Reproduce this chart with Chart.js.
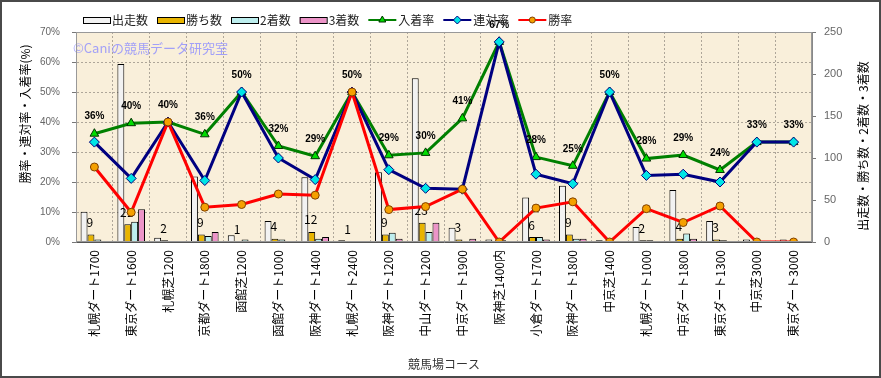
<!DOCTYPE html>
<html><head><meta charset="utf-8">
<script src="https://cdn.jsdelivr.net/npm/chart.js@4"></script>
<style>html,body{margin:0;padding:0;background:#fff;}canvas{display:block;}</style>
</head><body>
<canvas id="c" width="881" height="378"></canvas>
<script>
const categories = ['札幌ダート1700','東京ダート1600','札幌芝1200','京都ダート1800','函館芝1200','函館ダート1000','阪神ダート1400','札幌ダート2400','阪神ダート1200','中山ダート1200','中京ダート1900','阪神芝1400内','小倉ダート1700','阪神ダート1800','中京芝1400','札幌ダート1000','中京ダート1800','東京ダート1300','中京芝3000','東京ダート3000'];
const runs    = [36,212,5,78,8,25,77,2,83,195,17,3,53,67,2,18,62,25,3,3];
const wins    = [9,21,2,9,1,4,12,1,9,23,3,0,6,9,0,2,4,3,0,0];
const seconds = [3,24,0,7,3,3,4,0,11,12,0,2,6,4,1,2,10,2,1,1];
const thirds  = [1,39,0,12,0,1,6,0,4,23,4,0,3,4,0,1,4,1,0,0];
const placeRate  = [36.1,39.6,40.0,35.9,50.0,32.0,28.6,50.0,28.9,29.7,41.2,66.7,28.3,25.4,50.0,27.8,29.0,24.0,33.3,33.3];
const rentaiRate = [33.3,21.2,40.0,20.5,50.0,28.0,20.8,50.0,24.1,17.9,17.6,66.7,22.6,19.4,50.0,22.2,22.6,20.0,33.3,33.3];
const winRate    = [25.0,9.9,40.0,11.6,12.5,16.0,15.6,50.0,10.8,11.8,17.6,0,11.3,13.4,0,11.1,6.5,12.0,0,0];
const leftTicks = [0,10,20,30,40,50,60,70];
const rightTicks = [0,50,100,150,200,250];
const leftTitle = '勝率・連対率・入着率(%)';
const rightTitle = '出走数・勝ち数・2着数・3着数';
const xTitle = '競馬場コース';
const watermark = '©Caniの競馬データ研究室';

const JP = '"Noto Sans CJK JP", "Noto Sans", sans-serif';
const LAT = '"Liberation Sans", Arial, sans-serif';

const deco = {
  id: 'deco',
  beforeDraw(chart) {
    const {ctx, chartArea: a} = chart;
    ctx.save();
    ctx.fillStyle = '#fff';
    ctx.fillRect(0, 0, chart.width, chart.height);
    ctx.fillStyle = '#f9efda';
    ctx.fillRect(a.left, a.top, a.right - a.left, a.bottom - a.top);
    ctx.restore();
  },
  beforeDatasetsDraw(chart) {
    const {ctx, chartArea: a} = chart;
    ctx.save();
    ctx.font = '13px ' + JP;
    ctx.fillStyle = 'rgba(140,140,255,0.8)';
    ctx.textBaseline = 'middle';
    ctx.textAlign = 'left';
    ctx.fillText(watermark, a.left - 3, a.top + 16);
    ctx.restore();
  },
  afterDatasetDraw(chart, args) {
    if (args.index !== 0) return;
    const ctx = chart.ctx;
    const meta = chart.getDatasetMeta(1);
    ctx.save();
    ctx.font = '12px ' + JP;
    ctx.fillStyle = '#000';
    ctx.textAlign = 'center';
    ctx.textBaseline = 'middle';
    meta.data.forEach((b, i) => {
      if (wins[i] > 0) ctx.fillText(String(wins[i]), b.x - 1, b.y - 12);
    });
    ctx.restore();
  },
  afterDatasetsDraw(chart) {
    const ctx = chart.ctx;
    const meta = chart.getDatasetMeta(4);
    ctx.save();
    ctx.font = 'bold 10px ' + LAT;
    ctx.fillStyle = '#000';
    ctx.textAlign = 'center';
    ctx.textBaseline = 'middle';
    meta.data.forEach((p, i) => {
      ctx.fillText(Math.round(placeRate[i]) + '%', p.x, p.y - 17);
    });
    ctx.restore();
  },
  afterDraw(chart) {
    const {ctx, chartArea: a} = chart;
    ctx.save();
    ctx.strokeStyle = '#999';
    ctx.lineWidth = 1;
    ctx.strokeRect(a.left + 0.5, a.top + 0.5, a.right - a.left - 1, a.bottom - a.top - 1);
    ctx.strokeStyle = '#4a4a4a';
    ctx.lineWidth = 2;
    ctx.strokeRect(1, 1, chart.width - 2, chart.height - 2);
    ctx.fillStyle = '#000';
    ctx.font = '12px ' + JP;
    ctx.textAlign = 'center';
    ctx.textBaseline = 'middle';
    ctx.save(); ctx.translate(25, 114); ctx.rotate(-Math.PI / 2); ctx.fillText(leftTitle, 0, 0); ctx.restore();
    ctx.save(); ctx.translate(863, 146); ctx.rotate(-Math.PI / 2); ctx.fillText(rightTitle, 0, 0); ctx.restore();
    const y = 20;
    let x = 83;
    ctx.textAlign = 'left';
    chart.data.datasets.forEach(ds => {
      if (ds.type === 'bar') {
        ctx.fillStyle = ds.backgroundColor;
        ctx.fillRect(x, y - 3, 27, 6);
        ctx.strokeStyle = '#000'; ctx.lineWidth = 1;
        ctx.strokeRect(x + 0.5, y - 3 + 0.5, 27, 6);
        x += 29;
      } else {
        ctx.strokeStyle = ds.borderColor; ctx.lineWidth = 2;
        ctx.beginPath(); ctx.moveTo(x, y); ctx.lineTo(x + 28, y); ctx.stroke();
        ctx.fillStyle = ds.pointBackgroundColor; ctx.strokeStyle = ds.pointBorderColor; ctx.lineWidth = 1;
        Chart.helpers.drawPoint(ctx, {pointStyle: ds.pointStyle, radius: ds.pointRadius - 1, borderWidth: 1, rotation: 0}, x + 14, y);
        x += 30;
      }
      ctx.fillStyle = '#222';
      ctx.fillText(ds.label, x, y);
      x += ctx.measureText(ds.label).width + 9;
    });
    ctx.restore();
  }
};

new Chart(document.getElementById('c'), {
  type: 'bar',
  data: {
    labels: categories,
    datasets: [
      {type: 'bar', label: '出走数', data: runs, yAxisID: 'y1', backgroundColor: '#f2f2f2', borderColor: '#000', borderWidth: 1, order: 10},
      {type: 'bar', label: '勝ち数', data: wins, yAxisID: 'y1', backgroundColor: '#e8b400', borderColor: '#000', borderWidth: 1, order: 11},
      {type: 'bar', label: '2着数', data: seconds, yAxisID: 'y1', backgroundColor: '#bdeeee', borderColor: '#000', borderWidth: 1, order: 12},
      {type: 'bar', label: '3着数', data: thirds, yAxisID: 'y1', backgroundColor: '#ec94c8', borderColor: '#000', borderWidth: 1, order: 13},
      {type: 'line', label: '入着率', data: placeRate, yAxisID: 'y', borderColor: '#008000', borderWidth: 3, tension: 0,
       pointStyle: 'triangle', pointRadius: 5, pointBackgroundColor: '#00dd00', pointBorderColor: '#003300', pointBorderWidth: 1, order: 3},
      {type: 'line', label: '連対率', data: rentaiRate, yAxisID: 'y', borderColor: '#000080', borderWidth: 3, tension: 0,
       pointStyle: 'rectRot', pointRadius: 5, pointBackgroundColor: '#00e5e5', pointBorderColor: '#000080', pointBorderWidth: 1, order: 2},
      {type: 'line', label: '勝率', data: winRate, yAxisID: 'y', borderColor: '#ff0000', borderWidth: 3, tension: 0,
       pointStyle: 'circle', pointRadius: 4, pointBackgroundColor: '#f5a000', pointBorderColor: '#804000', pointBorderWidth: 1, order: 1}
    ]
  },
  options: {
    responsive: false,
    animation: false,
    layout: {padding: {top: 32, left: 0, right: 0, bottom: 0}},
    datasets: {bar: {categoryPercentage: 0.75, barPercentage: 1.0}},
    plugins: {legend: {display: false}, tooltip: {enabled: false}},
    scales: {
      x: {
        afterFit(s) { s.height = 136; },
        grid: {offset: true, color: '#aea699', drawTicks: false},
        border: {display: true, color: '#555', width: 1, dash: [2, 2]},
        ticks: {autoSkip: false, minRotation: 90, maxRotation: 90, padding: 8, color: '#000', font: {family: JP, size: 12}},
        title: {display: true, text: xTitle, color: '#333', font: {family: JP, size: 12}, padding: {top: 4, bottom: 6}}
      },
      y: {
        position: 'left',
        min: 0, max: 70,
        afterFit(s) { s.width = 76; },
        afterBuildTicks(s) { s.ticks = leftTicks.map(v => ({value: v})); },
        grid: {color: '#aea699', tickLength: 4, tickColor: '#777', tickBorderDash: []},
        border: {display: true, color: '#888', width: 1, dash: [2, 2]},
        ticks: {padding: 12, color: '#666', font: {family: LAT, size: 10}, callback: v => v + '%'}
      },
      y1: {
        position: 'right',
        min: 0, max: 250,
        afterFit(s) { s.width = 69; },
        afterBuildTicks(s) { s.ticks = rightTicks.map(v => ({value: v})); },
        grid: {drawOnChartArea: false, tickLength: 4, tickColor: '#777'},
        border: {display: true, color: '#888', width: 1},
        ticks: {padding: 8, color: '#666', font: {family: LAT, size: 11}}
      }
    }
  },
  plugins: [deco]
});
</script>
</body></html>
